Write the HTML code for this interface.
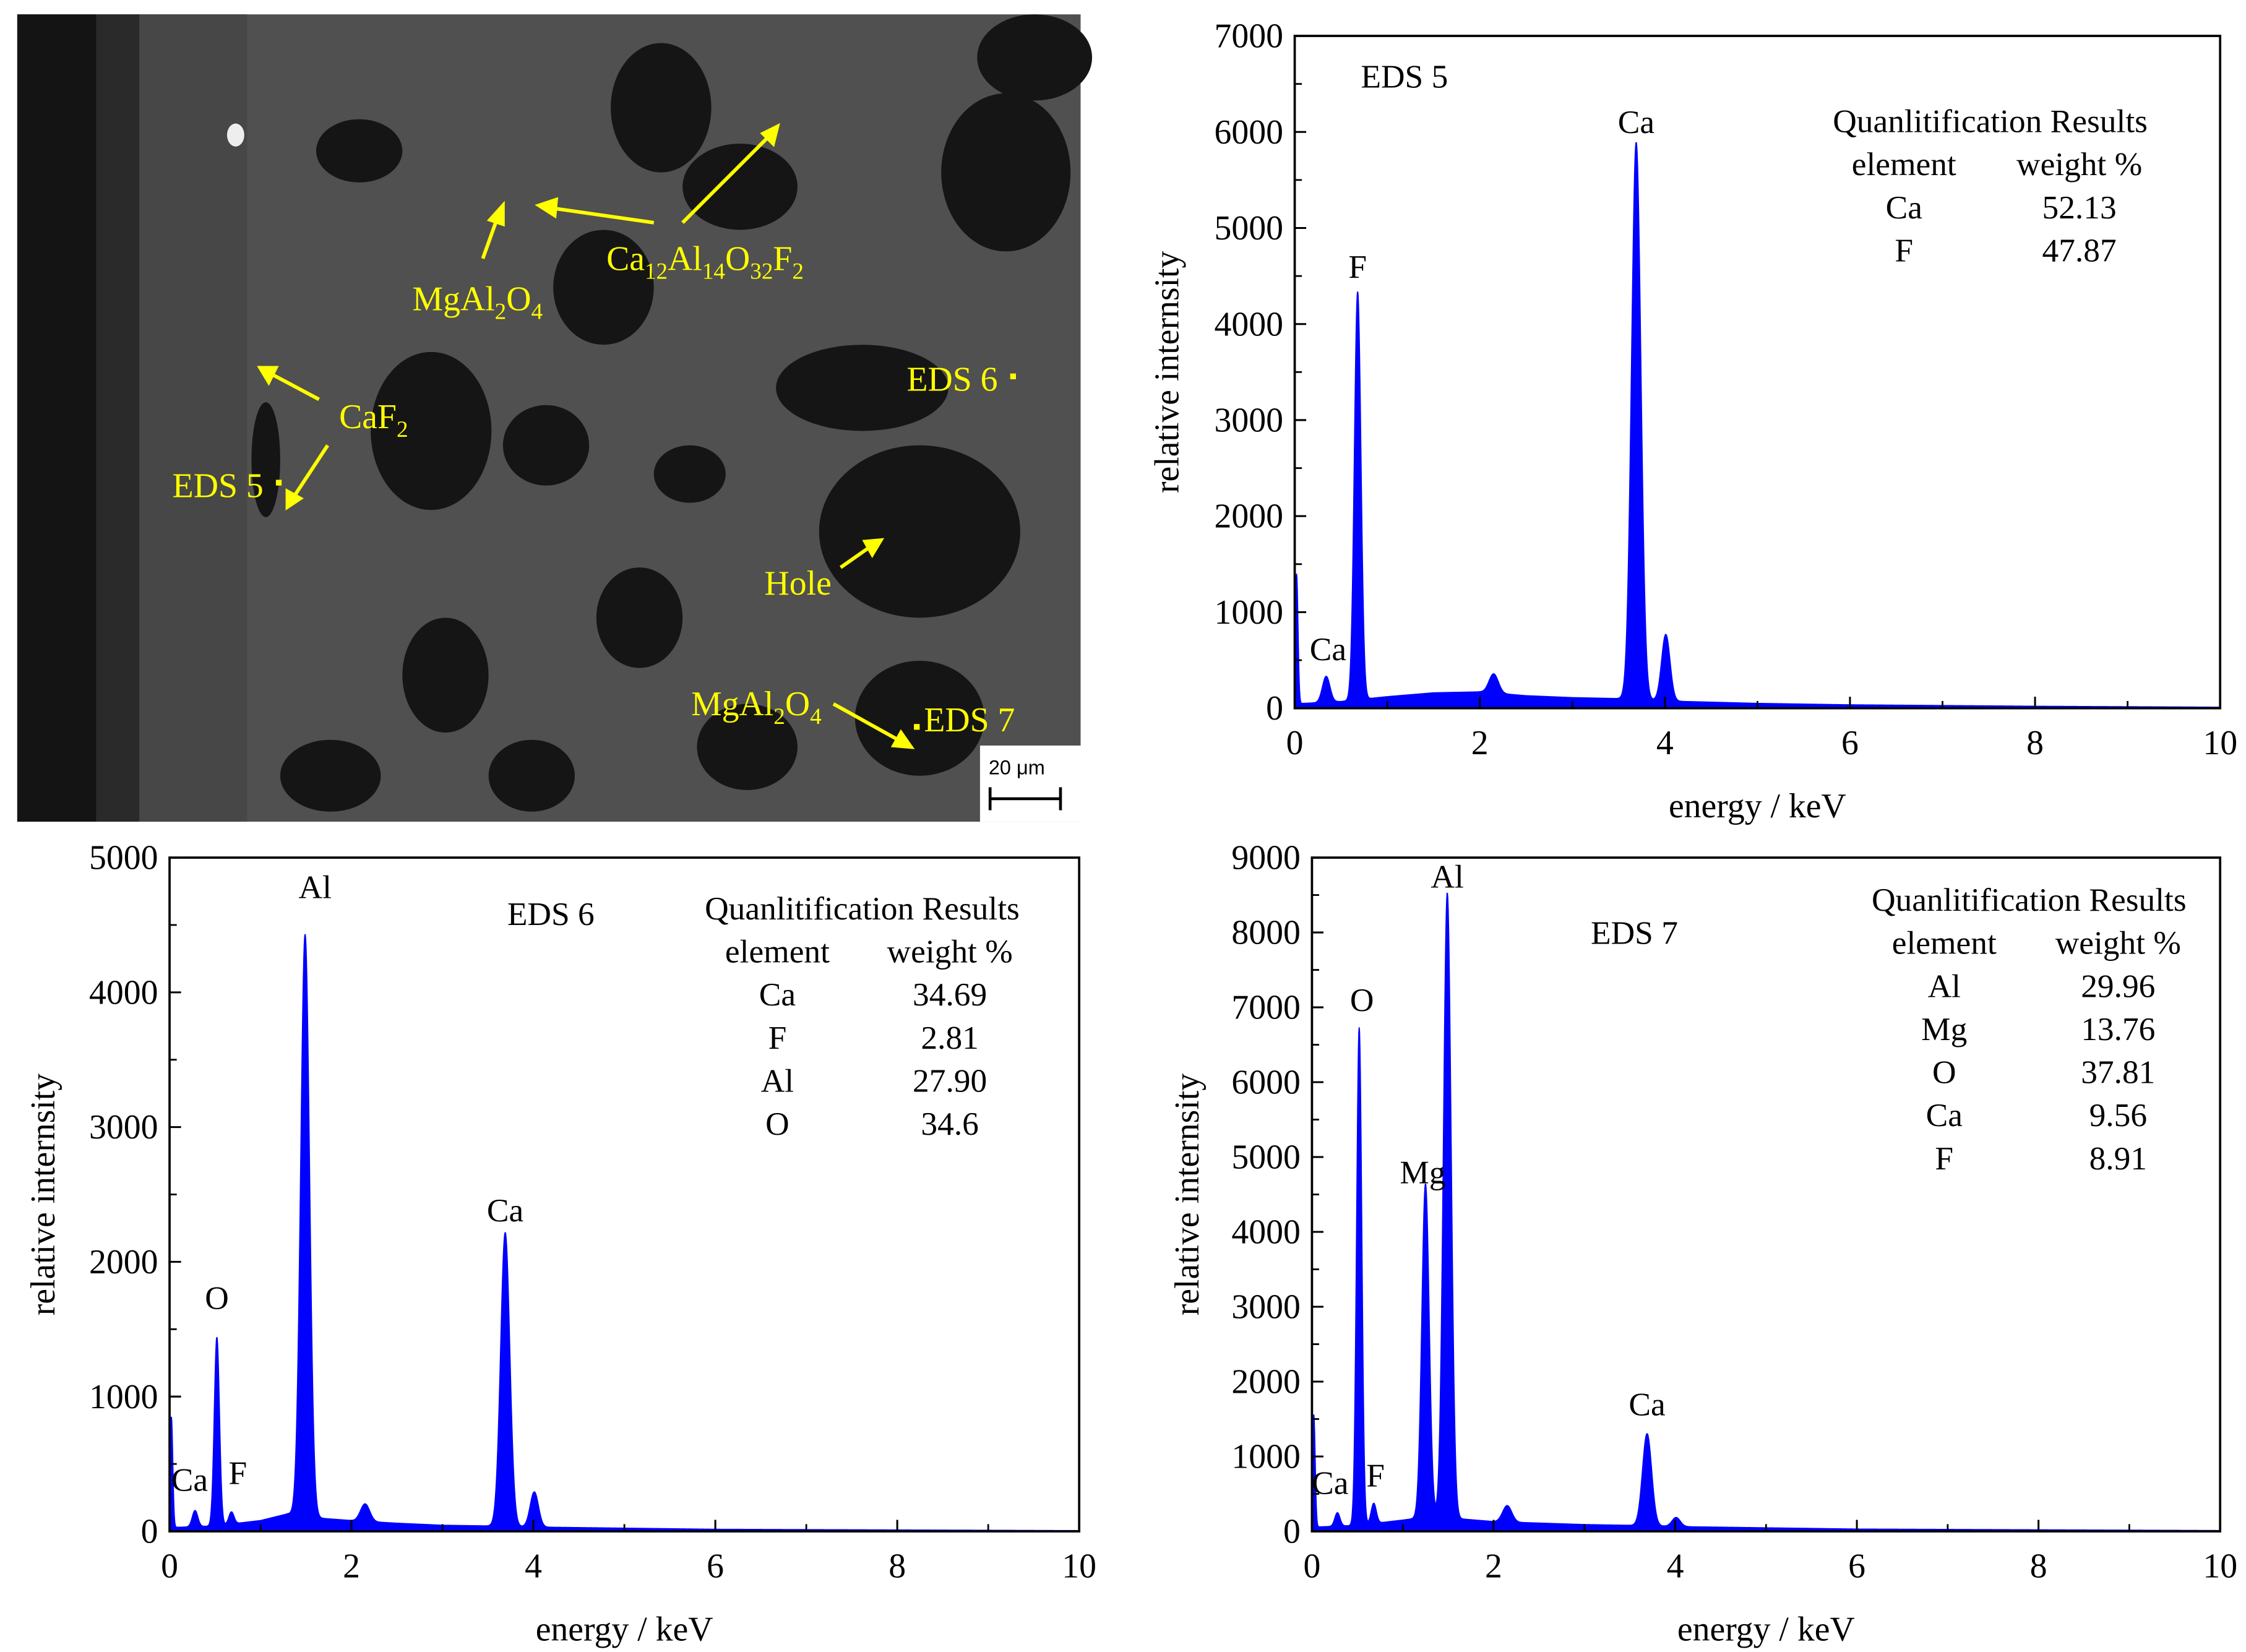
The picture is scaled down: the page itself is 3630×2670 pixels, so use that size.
<!DOCTYPE html>
<html><head><meta charset="utf-8"><style>
html,body{margin:0;padding:0;background:#fff;}
svg{display:block;}
text{font-family:"Liberation Serif",serif;}
</style></head><body>
<svg id="fig" xmlns="http://www.w3.org/2000/svg" width="3630" height="2670" viewBox="0 0 1563 1150" preserveAspectRatio="none">
<g id="sem">
  <rect x="12" y="10" width="740" height="562" fill="#505050"/>
  <rect x="12" y="10" width="55" height="562" fill="#141414"/>
  <rect x="67" y="10" width="30" height="562" fill="#2a2a2a"/>
  <rect x="97" y="10" width="75" height="562" fill="#474747"/>
  <ellipse cx="164" cy="94" rx="6" ry="8" fill="#eee"/>
  <g fill="#151515">
    <ellipse cx="300" cy="300" rx="42" ry="55"/>
    <ellipse cx="640" cy="370" rx="70" ry="60"/>
    <ellipse cx="600" cy="270" rx="60" ry="30"/>
    <ellipse cx="460" cy="75" rx="35" ry="45"/>
    <ellipse cx="420" cy="200" rx="35" ry="40"/>
    <ellipse cx="250" cy="105" rx="30" ry="22"/>
    <ellipse cx="515" cy="130" rx="40" ry="30"/>
    <ellipse cx="380" cy="310" rx="30" ry="28"/>
    <ellipse cx="700" cy="120" rx="45" ry="55"/>
    <ellipse cx="720" cy="40" rx="40" ry="30"/>
    <ellipse cx="310" cy="470" rx="30" ry="40"/>
    <ellipse cx="445" cy="430" rx="30" ry="35"/>
    <ellipse cx="520" cy="520" rx="35" ry="30"/>
    <ellipse cx="640" cy="500" rx="45" ry="40"/>
    <ellipse cx="230" cy="540" rx="35" ry="25"/>
    <ellipse cx="370" cy="540" rx="30" ry="25"/>
    <ellipse cx="480" cy="330" rx="25" ry="20"/>
    <ellipse cx="185" cy="320" rx="10" ry="40"/>
  </g>
  <g stroke="#ffff00" stroke-width="2.5" fill="#ffff00">
    <line x1="336" y1="180" x2="346" y2="152"/><polygon points="350,143 341,153 350,156"/>
    <line x1="455" y1="155" x2="385" y2="145"/><polygon points="375,143 387,139 386,150"/>
    <line x1="475" y1="155" x2="535" y2="95"/><polygon points="541,88 531,93 538,100"/>
    <line x1="222" y1="278" x2="190" y2="261"/><polygon points="181,256 192,256 187,266"/>
    <line x1="228" y1="310" x2="205" y2="345"/><polygon points="200,353 200,342 209,347"/>
    <line x1="585" y1="395" x2="605" y2="381"/><polygon points="613,376 602,377 607,386"/>
    <line x1="580" y1="490" x2="625" y2="515"/><polygon points="634,520 622,519 627,510"/>
  </g>
  <g fill="#ffff00" font-size="24">
    <text x="422" y="188">Ca<tspan font-size="16" dy="6">12</tspan><tspan dy="-6">Al</tspan><tspan font-size="16" dy="6">14</tspan><tspan dy="-6">O</tspan><tspan font-size="16" dy="6">32</tspan><tspan dy="-6">F</tspan><tspan font-size="16" dy="6">2</tspan></text>
    <text x="287" y="216">MgAl<tspan font-size="16" dy="6">2</tspan><tspan dy="-6">O</tspan><tspan font-size="16" dy="6">4</tspan></text>
    <text x="236" y="298">CaF<tspan font-size="16" dy="6">2</tspan></text>
    <text x="120" y="346">EDS 5</text>
    <text x="631" y="272">EDS 6</text>
    <text x="532" y="414">Hole</text>
    <text x="481" y="498">MgAl<tspan font-size="16" dy="6">2</tspan><tspan dy="-6">O</tspan><tspan font-size="16" dy="6">4</tspan></text>
    <text x="643" y="509">EDS 7</text>
  </g>
  <rect x="192" y="334" width="4" height="4" fill="#ffff00"/>
  <rect x="703" y="260" width="4" height="4" fill="#ffff00"/>
  <rect x="636" y="504" width="4" height="4" fill="#ffff00"/>
  <g>
    <rect x="682" y="519" width="70" height="53" fill="#fff"/>
    <text x="688" y="539" font-size="14" style="font-family:'Liberation Sans',sans-serif">20 μm</text>
    <path d="M689 556 H738 M689 548 V564 M738 548 V564" stroke="#000" stroke-width="2"/>
  </g>
</g>
<g id="c5"></g><g id="c6"></g><g id="c7"></g>
</svg>
<script>
// EDS 5 data
const eds5PeakE = [0.02, 0.34, 0.68, 2.15, 3.69, 4.01];
const eds5PeakH = [1350, 270, 4250, 200, 5800, 690];
const eds5PeakW = [0.015, 0.04, 0.035, 0.05, 0.05, 0.045];
const eds5BgE = [0, 0.1, 0.5, 1.0, 1.5, 2.0, 2.5, 3.0, 3.5, 4.2, 5, 6, 8, 10];
const eds5BgV = [50, 50, 70, 120, 160, 170, 130, 110, 100, 70, 50, 35, 20, 10];
const eds5YTicks = [0,1000,2000,3000,4000,5000,6000,7000];
// EDS 6 data
const eds6PeakE = [0.02, 0.28, 0.52, 0.68, 1.49, 2.15, 3.69, 4.01];
const eds6PeakH = [820, 120, 1400, 90, 4320, 130, 2180, 260];
const eds6PeakW = [0.015, 0.03, 0.028, 0.028, 0.048, 0.05, 0.05, 0.045];
const eds6BgE = [0, 0.1, 0.5, 1.0, 1.3, 1.6, 2.0, 2.5, 3.0, 3.5, 4.2, 6, 10];
const eds6BgV = [30, 30, 40, 80, 130, 100, 80, 60, 45, 40, 30, 15, 5];
const eds6YTicks = [0,1000,2000,3000,4000,5000];
// EDS 7 data
const eds7PeakE = [0.02, 0.28, 0.52, 0.68, 1.25, 1.49, 2.15, 3.69, 4.01];
const eds7PeakH = [1500, 180, 6650, 270, 4450, 8350, 220, 1230, 120];
const eds7PeakW = [0.015, 0.028, 0.028, 0.028, 0.04, 0.042, 0.05, 0.05, 0.045];
const eds7BgE = [0, 0.1, 0.5, 1.0, 1.3, 1.6, 2.0, 2.5, 3.0, 3.5, 4.2, 6, 10];
const eds7BgV = [60, 60, 80, 150, 200, 170, 130, 110, 90, 80, 60, 30, 10];
const eds7YTicks = [0,1000,2000,3000,4000,5000,6000,7000,8000,9000];
const xTicks = [0,2,4,6,8,10];

const NS = "http://www.w3.org/2000/svg";
function mk(parent, tag, attrs, txt){
  const e = document.createElementNS(NS, tag);
  for (const k in attrs) e.setAttribute(k, attrs[k]);
  if (txt !== undefined) e.textContent = txt;
  parent.appendChild(e); return e;
}
function interp(xs, ys, x){
  for (let i=0;i<xs.length-1;i++) if (x>=xs[i] && x<=xs[i+1]) return ys[i]+(ys[i+1]-ys[i])*(x-xs[i])/(xs[i+1]-xs[i]);
  return ys[ys.length-1];
}
function drawChart(gid, box, yMax, yTicks, pe, ph, pw, be, bv, labels, title, table){
  const g = document.getElementById(gid);
  const X = e => box.x0 + (box.x1-box.x0)*e/10;
  const Y = v => box.y0 - (box.y0-box.y1)*v/yMax;
  let d = "M"+X(0)+" "+Y(0);
  for (let e=0; e<=10.0001; e+=0.004){
    let v = interp(be, bv, e);
    for (let i=0;i<pe.length;i++) v += ph[i]*Math.exp(-0.5*Math.pow((e-pe[i])/pw[i],2));
    d += " L"+X(e).toFixed(2)+" "+Y(Math.min(v,yMax)).toFixed(2);
  }
  d += " L"+X(10)+" "+Y(0)+" Z";
  const sp = mk(g,"path",{d:d,fill:"#0000ff",stroke:"#0000ff","stroke-width":"0.8"});
  
  
  const fr = mk(g,"rect",{x:box.x0,y:box.y1,width:box.x1-box.x0,height:box.y0-box.y1,fill:"none",stroke:"#000","stroke-width":"1.6"});
  
  
  const step = yTicks[1]-yTicks[0];
  for (const t of yTicks){
    mk(g,"line",{x1:box.x0,x2:box.x0+8,y1:Y(t),y2:Y(t),stroke:"#000","stroke-width":"1.3"});
    if (t+step/2 < yMax) mk(g,"line",{x1:box.x0,x2:box.x0+5,y1:Y(t+step/2),y2:Y(t+step/2),stroke:"#000","stroke-width":"1.2"});
    const tl = mk(g,"text",{x:box.x0-8,y:Y(t)+8,"text-anchor":"end","font-size":"24"}, String(t));
    
    
  }
  for (const t of xTicks){
    mk(g,"line",{x1:X(t),x2:X(t),y1:box.y0,y2:box.y0-8,stroke:"#000","stroke-width":"1.3"});
    if (t<10) mk(g,"line",{x1:X(t+1),x2:X(t+1),y1:box.y0,y2:box.y0-5,stroke:"#000","stroke-width":"1.2"});
    const tl = mk(g,"text",{x:X(t),y:box.y0+32,"text-anchor":"middle","font-size":"24"}, String(t));
    
    
  }
  const xt = mk(g,"text",{x:(box.x0+box.x1)/2,y:box.y0+76,"text-anchor":"middle","font-size":"24"},"energy / keV");
  
  
  const yc = (box.y0+box.y1)/2;
  const yt = mk(g,"text",{x:box.ytx,y:yc,"text-anchor":"middle","font-size":"24",transform:"rotate(-90 "+box.ytx+" "+yc+")"},"relative internsity");
  
  
  for (const l of labels){
    const pl = mk(g,"text",{x:X(l[1]),y:Y(l[2]),"text-anchor":"middle","font-size":"23"}, l[0]);
    
    
  }
  const tt = mk(g,"text",{x:title[1],y:title[2],"font-size":"23"}, title[0]);
  
  
  const tb = mk(g,"g",{"font-size":"23"});
  
  
  mk(tb,"text",{x:table.cx,y:table.y,"text-anchor":"middle"},"Quanlitification Results");
  mk(tb,"text",{x:table.c1,y:table.y+30,"text-anchor":"middle"},"element");
  mk(tb,"text",{x:table.c2,y:table.y+30,"text-anchor":"middle"},"weight %");
  table.rows.forEach((r,i)=>{
    mk(tb,"text",{x:table.c1,y:table.y+60+30*i,"text-anchor":"middle"},r[0]);
    mk(tb,"text",{x:table.c2,y:table.y+60+30*i,"text-anchor":"middle"},r[1]);
  });
}
drawChart("c5",{x0:901,x1:1545,y0:493,y1:25,ytx:820}, 7000, eds5YTicks, eds5PeakE, eds5PeakH, eds5PeakW, eds5BgE, eds5BgV,
  [["F",0.68,4480],["Ca",3.69,5990],["Ca",0.36,500]], ["EDS 5",947,61],
  {cx:1385,c1:1325,c2:1447,y:92,rows:[["Ca","52.13"],["F","47.87"]]});
drawChart("c6",{x0:118,x1:751,y0:1066,y1:597,ytx:38}, 5000, eds6YTicks, eds6PeakE, eds6PeakH, eds6PeakW, eds6BgE, eds6BgV,
  [["Al",1.6,4700],["O",0.52,1650],["Ca",3.69,2300],["Ca",0.22,300],["F",0.75,350]], ["EDS 6",353,644],
  {cx:600,c1:541,c2:661,y:640,rows:[["Ca","34.69"],["F","2.81"],["Al","27.90"],["O","34.6"]]});
drawChart("c7",{x0:913,x1:1545,y0:1066,y1:597,ytx:834}, 9000, eds7YTicks, eds7PeakE, eds7PeakH, eds7PeakW, eds7BgE, eds7BgV,
  [["Al",1.49,8600],["O",0.55,6950],["Mg",1.22,4650],["Ca",3.69,1550],["Ca",0.2,500],["F",0.7,600]], ["EDS 7",1107,657],
  {cx:1412,c1:1353,c2:1474,y:634,rows:[["Al","29.96"],["Mg","13.76"],["O","37.81"],["Ca","9.56"],["F","8.91"]]});
</script>
</body></html>
